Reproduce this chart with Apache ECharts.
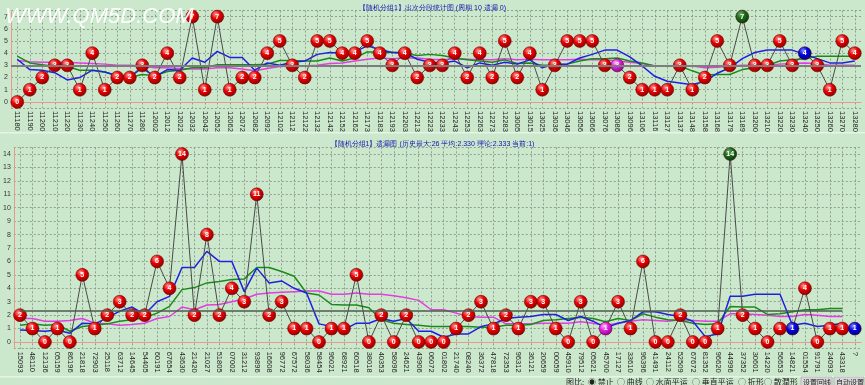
<!DOCTYPE html>
<html><head><meta charset="utf-8">
<script src="https://cdn.jsdelivr.net/npm/echarts@6/dist/echarts.min.js"></script>
<style>html,body{margin:0;padding:0;background:#cce8cc;}#c{width:865px;height:385px;}</style>
</head><body><div id="c"></div>
<script>
// ---------- TOP CHART DATA ----------
const topCats = ['11180','11190','11200','11210','11220','11230','11240','11250','11260','11270','11280','12002','12012','12022','12032','12042','12052','12062','12072','12082','12092','12102','12112',
'12122','12132','12142','12152','12162','12173','12183','12193','12203','12213','12223','12233','12243','12253','12263','12273','12283','13005','13015','13025','13036','13046','13056',
'13066','13076','13086','13096','13106','13116','13127','13137','13148','13158','13168','13179','13189','13200','13210','13220','13230','13240','13250','13260','13270','13280'];
const topHits = [0,1,2,3,3,1,4,1,2,2,3,2,4,2,7,1,7,1,2,2,4,5,3,
2,5,5,4,4,5,4,3,4,2,3,3,4,2,4,2,5,2,4,1,3,5,5,
5,3,3,2,1,1,1,3,1,2,5,3,7,3,3,5,3,4,3,1,5,4];
const topBlue = [3.5,2.65,2.6,2.4,1.8,2.0,2.6,2.45,2.15,2.05,2.8,2.05,2.65,2.6,3.6,3.25,4.15,3.65,3.65,2.6,3.2,3.0,3.25,
3.35,3.9,4.05,4.0,4.1,4.6,4.3,4.05,4.05,3.5,3.25,3.2,3.35,2.8,3.2,3.0,3.25,3.1,3.45,2.8,3.1,3.1,3.6,
3.9,4.25,4.25,3.7,2.95,2.1,1.7,1.55,1.4,1.7,2.35,2.8,3.55,4.05,4.25,4.25,4.25,3.9,3.55,3.2,3.2,3.35];
const topGreen = [3.75,3.2,3.05,2.9,2.9,2.6,2.6,2.45,2.15,2.0,2.25,2.15,2.5,2.6,2.8,2.8,3.05,3.05,3.05,3.05,3.1,3.4,3.4,
3.35,3.35,3.6,3.35,3.6,4.1,4.1,4.05,4.0,3.8,3.9,3.8,3.6,3.45,3.35,3.25,3.45,3.15,3.2,3.0,3.0,3.1,3.35,
3.55,3.55,3.6,3.35,3.2,2.95,2.95,2.95,2.55,2.2,2.25,2.25,2.65,2.8,3.0,3.35,3.45,3.55,3.75,3.75,3.75,3.75];
const topMagenta = [3.4,3.3,3.25,3.25,3.25,3.2,3.15,3.1,3.0,3.0,2.95,2.8,2.8,2.75,2.7,2.7,2.8,2.8,2.7,2.55,2.75,2.9,2.95,
2.95,3.0,3.15,3.2,3.35,3.5,3.6,3.55,3.6,3.6,3.5,3.45,3.55,3.5,3.45,3.45,3.55,3.45,3.5,3.45,3.45,3.45,3.5,
3.45,3.45,3.35,3.25,3.15,2.95,2.95,2.95,2.95,2.8,2.85,2.95,3.0,3.0,3.0,3.1,3.15,3.2,3.15,3.0,3.0,3.0];
const topTheory = 3;
const topMarked = {48:'magenta', 58:'green', 63:'blue'};

// ---------- BOTTOM CHART DATA ----------
const botCats = ['15093','48110','12136','05159','86196','21818','72903','25118','63712','14645','54405','60191','67654','43630','21420','21027','51805','07002','31212','93896','16608','96772','67572',
'58036','58454','96021','68921','60518','38018','40353','58096','24621','43906','06072','01802','21740','08240','36372','47818','72353','96312','36121','20659','00059','45910','79512',
'05621','45700','17127','33610','96396','41491','24112','52509','67672','81352','96620','44996','37352','30601','14220','56653','14821','01554','91791','24093','43318','?'];
const botMiss = [2,1,0,1,0,5,1,2,3,2,2,6,4,14,2,8,2,4,3,11,2,3,1,
1,0,1,1,5,0,2,0,2,0,0,0,1,2,3,1,2,1,3,3,1,0,3,
0,1,3,1,6,0,0,2,0,0,1,14,2,1,0,1,1,4,0,1,1,1];
const botBlue = [0.9,0.85,0.8,0.9,0.65,1.4,1.35,1.8,2.3,2.6,2.05,3.0,3.4,5.55,5.55,6.75,6.0,6.0,3.75,5.5,4.4,4.55,4.0,
3.65,1.35,1.15,0.9,1.4,1.4,1.75,1.55,1.75,0.8,0.8,0.35,0.6,0.6,1.15,1.35,1.75,1.85,1.9,2.05,2.05,1.6,1.9,
1.55,1.05,1.4,1.6,2.25,2.25,2.05,1.9,1.55,0.4,0.6,3.4,3.4,3.55,3.55,3.55,1.25,1.4,1.15,1.25,1.4,null];
const botGreen = [1.25,1.35,1.25,1.3,0.8,1.15,1.25,1.35,1.55,1.65,1.8,2.15,2.65,3.9,4.05,4.4,4.5,4.65,4.7,5.55,5.55,5.25,4.9,
3.65,3.5,2.8,2.75,2.75,2.55,1.65,1.4,1.3,1.25,1.15,1.15,1.15,1.15,1.1,1.1,1.25,1.25,1.3,1.6,1.65,1.75,1.85,
1.75,1.5,1.75,1.6,2.1,1.85,1.65,1.6,1.4,1.3,1.35,2.65,2.6,2.6,2.05,2.1,2.25,2.4,2.4,2.5,2.5,null];
const botMagenta = [1.75,1.75,1.55,1.55,1.6,1.75,1.4,1.35,1.25,1.3,1.4,1.75,1.9,2.6,2.4,2.75,2.8,3.0,3.2,3.55,3.65,3.7,3.75,
3.8,3.8,3.55,3.55,3.65,3.55,3.55,3.45,3.3,3.1,2.4,2.4,2.15,1.9,1.85,1.85,1.35,1.35,1.35,1.4,1.4,1.4,1.5,
1.4,1.25,1.4,1.55,1.65,1.6,1.55,1.65,1.6,1.55,1.55,2.1,2.1,2.05,2.0,1.9,1.9,2.05,2.0,1.9,1.9,null];
const botTheory = 2.333;
const botMarked = {47:'magenta', 57:'green', 62:'blue', 67:'blue'};

const topTitle = '【随机分组1】出次分段统计图 (周期 10 遗漏 0)';
const botTitle = '【随机分组1】遗漏图 (历史最大:26 平均:2.330 理论:2.333 当前:1)';

// ---------- STYLE ----------
const FONT = '"Liberation Sans", Arial, sans-serif';
const PAL = {
  red: ['#ff9a9a', '#e80000', '#8c0000'],
  magenta: ['#ffb8ff', '#e020e0', '#8c008c'],
  green: ['#6cb06c', '#1b6b1b', '#083808'],
  blue: ['#8c8cff', '#0000e0', '#000080']
};
function ball(kind){
  const p = PAL[kind];
  return {type:'radial', x:0.38, y:0.32, r:0.72, colorStops:[{offset:0,color:p[0]},{offset:0.45,color:p[1]},{offset:1,color:p[2]}]};
}
function hitData(vals, marks){
  return vals.map((v,i)=>({value:v, itemStyle:{color:ball(marks[i]||'red'), borderColor:'#5a0000', borderWidth:0.5}}));
}
const GRIDCOL = '#8fa08f';
function xAxisFor(cats, gi){
  return {type:'category', gridIndex:gi, data:cats, boundaryGap:true,
    axisLine:{lineStyle:{color:'#e59a90', width:1}}, axisTick:{show:false},
    axisLabel:{rotate:-90, fontSize:7.5, color:'#222', fontFamily:FONT, interval:0, margin:3},
    splitLine:{show:true, alignWithLabel:true, lineStyle:{color:GRIDCOL, type:[2,2], width:1}}};
}
function yAxisFor(min, max, split, gi){
  return {type:'value', gridIndex:gi, min:min, max:max, splitNumber:split,
    axisLine:{show:true, lineStyle:{color:'#e59a90'}}, axisTick:{show:false},
    axisLabel:{fontSize:7, color:'#333', margin:3, fontFamily:FONT, formatter:v=>Number.isInteger(v)?String(v):''},
    splitLine:{show:true, lineStyle:{color:GRIDCOL, type:[2,2], width:1}}};
}
function avgLine(name, data, color, gi, width){
  return {name:name, type:'line', xAxisIndex:gi, yAxisIndex:gi, data:data, symbol:'none', z:2,
    lineStyle:{color:color, width:width}, silent:true, animation:false};
}
function hitSeries(name, data, marks, gi){
  return {name:name, type:'line', xAxisIndex:gi, yAxisIndex:gi, data:hitData(data, marks), z:4,
    symbol:'circle', symbolSize:13, showAllSymbol:true,
    lineStyle:{color:'#4a4a4a', width:1},
    label:{show:true, position:'inside', color:'#fff', fontSize:7, fontWeight:'bold', fontFamily:FONT},
    animation:false};
}

const chart = echarts.init(document.getElementById('c'), null, {renderer:'canvas'});
const option = {
  backgroundColor:'#cce8cc',
  animation:false,
  title:[
    {text:topTitle, left:'center', top:0, textStyle:{fontSize:7, color:'#1010b0', fontWeight:'normal', fontFamily:FONT}},
    {text:botTitle, left:'center', top:136, textStyle:{fontSize:7, color:'#1010b0', fontWeight:'normal', fontFamily:FONT}}
  ],
  grid:[
    {left:11, right:4, top:10.5, height:97.5},
    {left:11, right:4, top:147.3, height:201.4}
  ],
  xAxis:[xAxisFor(topCats,0), xAxisFor(botCats,1)],
  yAxis:[yAxisFor(-0.5,7.5,8,0), yAxisFor(-0.5,14.5,15,1)],
  series:[
    Object.assign(avgLine('top-magenta', topMagenta, '#e23ee2', 0, 1.5), {
      markLine:{symbol:'none', silent:true, label:{show:false}, lineStyle:{color:'#7d7d7d', width:2, type:'solid'}, data:[{yAxis:topTheory}]}
    }),
    avgLine('top-green', topGreen, '#1a8a1a', 0, 1.5),
    avgLine('top-blue', topBlue, '#2020e0', 0, 1.5),
    hitSeries('top-hits', topHits, topMarked, 0),
    Object.assign(avgLine('bot-magenta', botMagenta, '#e23ee2', 1, 1.5), {
      markLine:{symbol:'none', silent:true, label:{show:false}, lineStyle:{color:'#4c5c4c', width:1.5, type:'solid'},
        data:[[{coord:[0, botTheory]},{coord:[66, botTheory]}]]}
    }),
    avgLine('bot-green', botGreen, '#1a8a1a', 1, 1.5),
    avgLine('bot-blue', botBlue, '#2020e0', 1, 1.5),
    hitSeries('bot-miss', botMiss, botMarked, 1)
  ],
  graphic:[
    {type:'rect', shape:{x:0, y:132, width:865, height:1.5}, style:{fill:'#e6f4e6'}, silent:true},
    {type:'rect', shape:{x:0, y:376, width:865, height:1.5}, style:{fill:'#e6f4e6'}, silent:true},
    {type:'text', left:5, top:6, z:100, style:{text:'WWW.QM5D.COM', fill:'#ffffff', font:'italic 22px "Liberation Sans", Arial, sans-serif', opacity:0.95}},
    {type:'text', x:566, y:382, style:{text:'图比:', fill:'#222', font:'8px "Noto Sans CJK SC"', textVerticalAlign:'middle'}},
    {type:'text', x:588, y:382, style:{text:'◉ 禁止', fill:'#222', font:'8px "Noto Sans CJK SC"', textVerticalAlign:'middle'}},
    {type:'text', x:617, y:382, style:{text:'○ 曲线', fill:'#222', font:'8px "Noto Sans CJK SC"', textVerticalAlign:'middle'}},
    {type:'text', x:646, y:382, style:{text:'○ 水面平运', fill:'#222', font:'8px "Noto Sans CJK SC"', textVerticalAlign:'middle'}},
    {type:'text', x:692, y:382, style:{text:'○ 垂直平运', fill:'#222', font:'8px "Noto Sans CJK SC"', textVerticalAlign:'middle'}},
    {type:'text', x:738, y:382, style:{text:'○ 折形', fill:'#222', font:'8px "Noto Sans CJK SC"', textVerticalAlign:'middle'}},
    {type:'text', x:764, y:382, style:{text:'○ 散潤形', fill:'#222', font:'8px "Noto Sans CJK SC"', textVerticalAlign:'middle'}},
    {type:'rect', shape:{x:801, y:377, width:31, height:10}, style:{fill:'#d8d8d8', stroke:'#999', lineWidth:0.5}},
    {type:'text', x:803, y:382, style:{text:'设置回线', fill:'#222', font:'7px "Noto Sans CJK SC"', textVerticalAlign:'middle'}},
    {type:'rect', shape:{x:834, y:377, width:30, height:10}, style:{fill:'#d8d8d8', stroke:'#999', lineWidth:0.5}},
    {type:'text', x:836, y:382, style:{text:'自动设置', fill:'#222', font:'7px "Noto Sans CJK SC"', textVerticalAlign:'middle'}}
  ]
};
chart.setOption(option);
</script></body></html>
